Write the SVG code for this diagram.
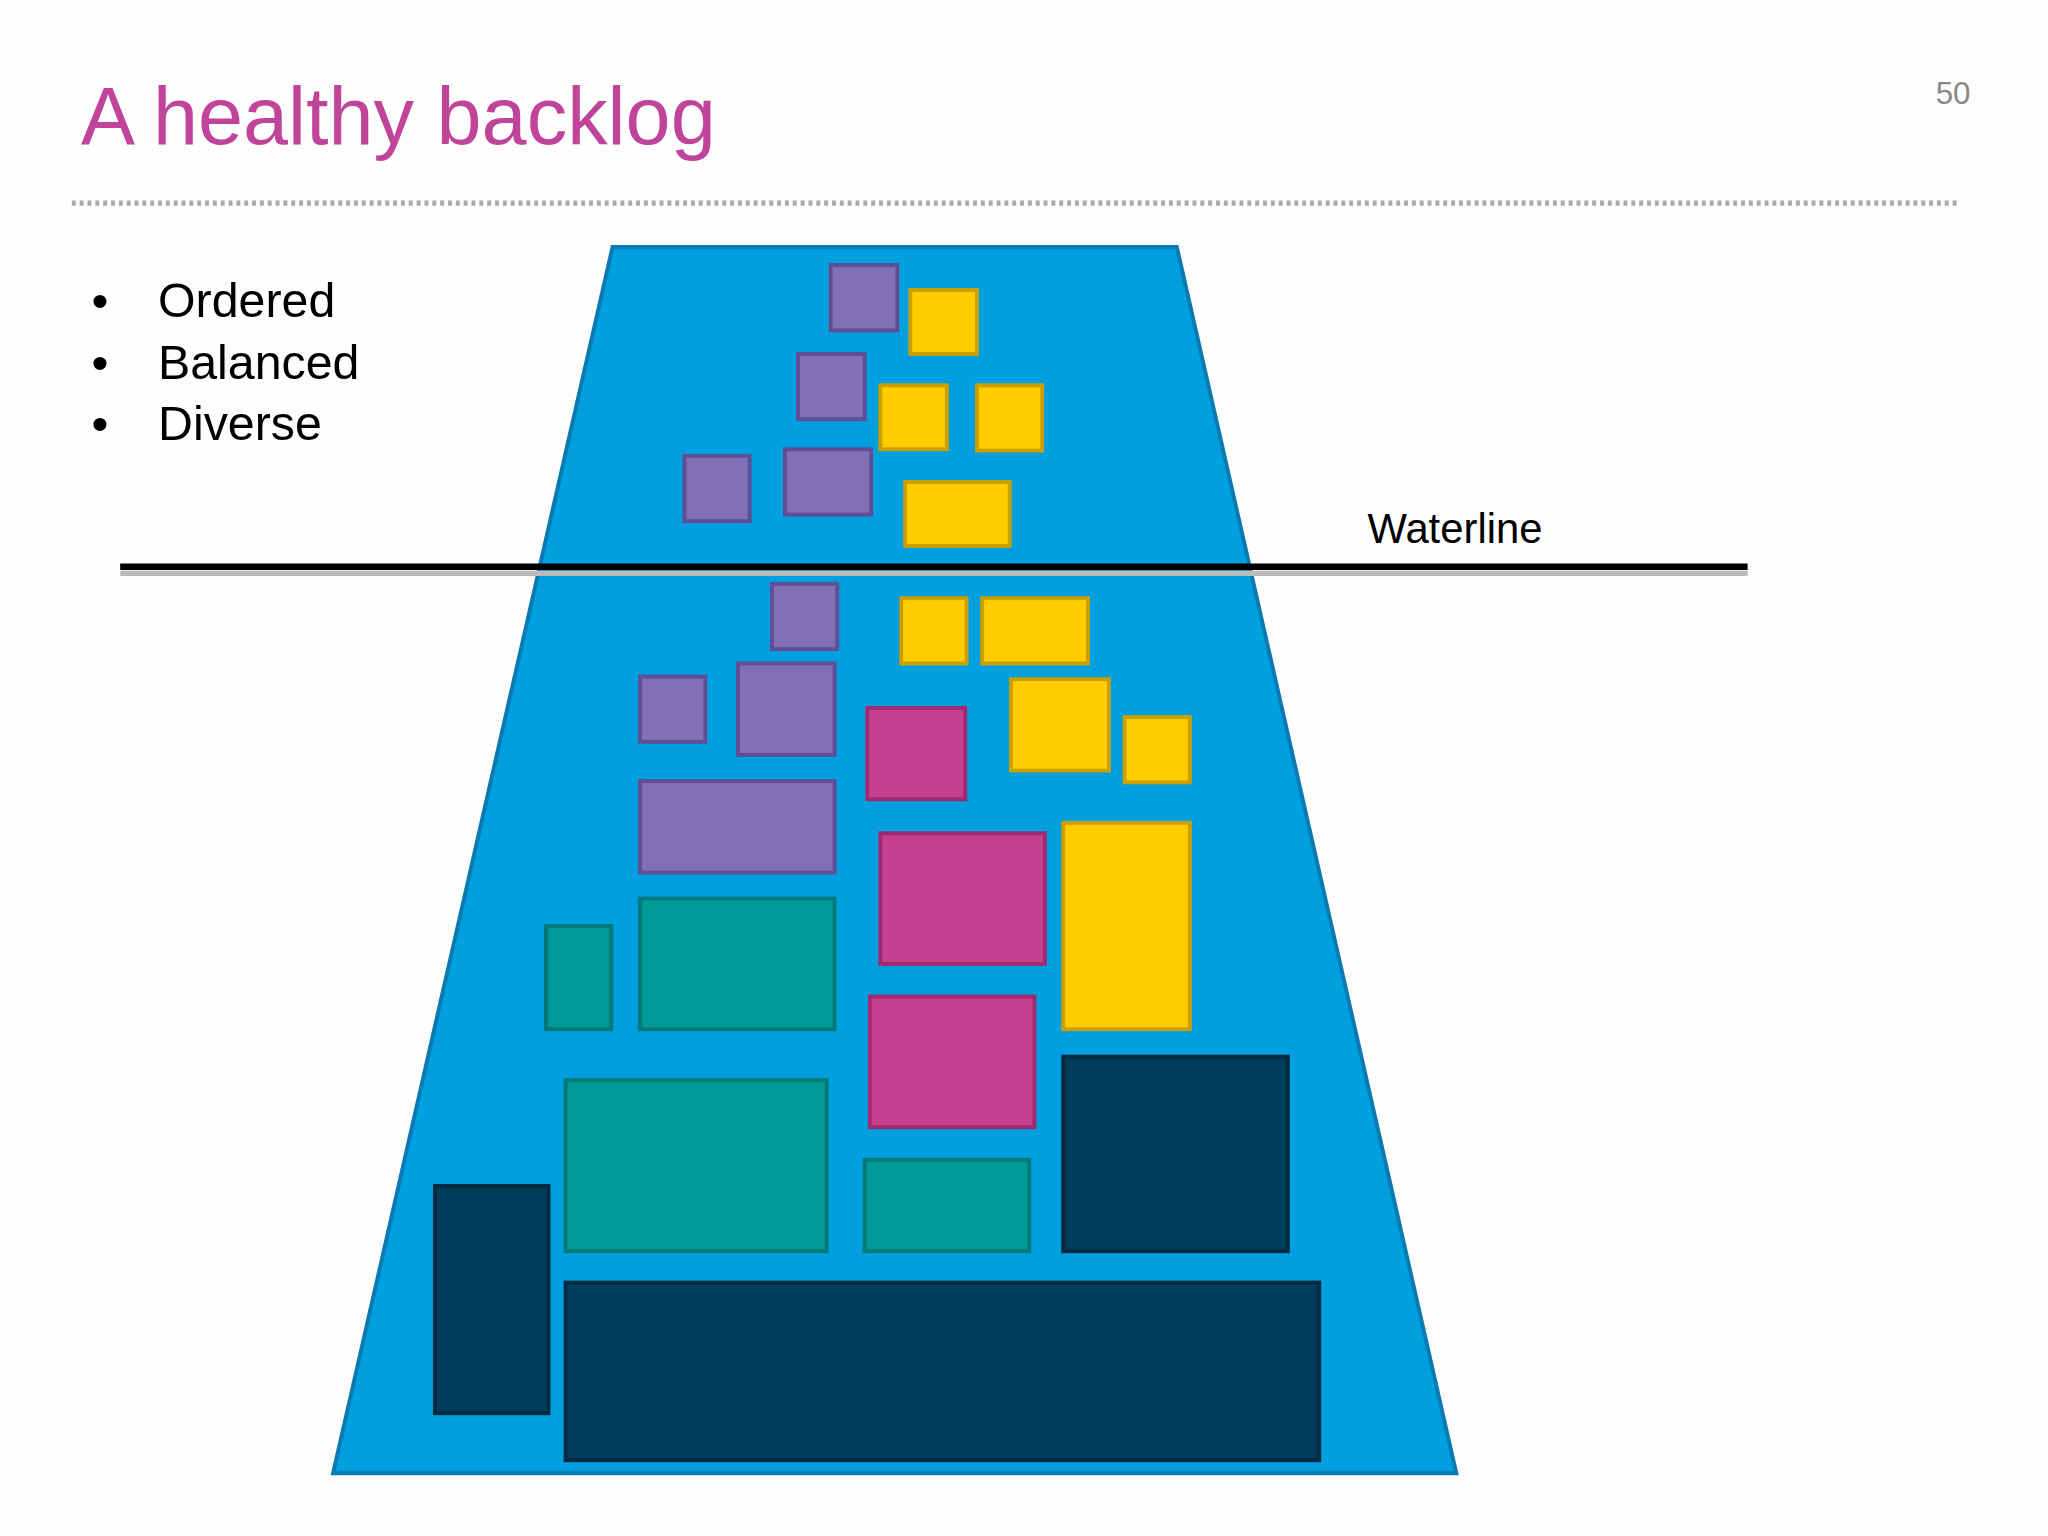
<svg xmlns="http://www.w3.org/2000/svg" width="2048" height="1536" viewBox="0 0 2048 1536">
<style>
.t{font-family:"Liberation Sans",Arial,sans-serif}
.p{fill:#8070b4;stroke:#5e4f96;stroke-width:3}
.y{fill:#ffcc00;stroke:#c9a000;stroke-width:3}
.m{fill:#c54090;stroke:#a02a70;stroke-width:3}
.g{fill:#009999;stroke:#007a78;stroke-width:3}
.n{fill:#003d5c;stroke:#002a40;stroke-width:3}
</style>
<rect width="2048" height="1536" fill="#fdfdfd"/>
<g transform="scale(1.30612)">
<text class="t" x="62" y="110" font-size="62" fill="#c0449a">A healthy backlog</text>
<text class="t" x="1482" y="80" font-size="24" fill="#888">50</text>
<line x1="55" y1="155.5" x2="1500" y2="155.5" stroke="#aaa" stroke-width="4" stroke-dasharray="3,3"/>
<g class="t" font-size="37" fill="#000">
<text x="70" y="243">•</text><text x="121" y="243">Ordered</text>
<text x="70" y="290">•</text><text x="121" y="290">Balanced</text>
<text x="70" y="337">•</text><text x="121" y="337">Diverse</text>
</g>
<g id="funnel"><polygon points="469,189 901,189 1115,1128 255,1128" fill="#009fe0" stroke="#0a7ab0" stroke-width="3"/></g>
<g id="items">
<rect class="p" x="636" y="203" width="51" height="50"/>
<rect class="p" x="611" y="271" width="51" height="50"/>
<rect class="p" x="524" y="349" width="50" height="50"/>
<rect class="p" x="601" y="344" width="66" height="50"/>
<rect class="p" x="591" y="447" width="50" height="50"/>
<rect class="p" x="490" y="518" width="50" height="50"/>
<rect class="p" x="565" y="508" width="74" height="70"/>
<rect class="p" x="490" y="598" width="149" height="70"/>
<rect class="y" x="697" y="222" width="51" height="49"/>
<rect class="y" x="674" y="295" width="51" height="49"/>
<rect class="y" x="748" y="295" width="50" height="50"/>
<rect class="y" x="693" y="369" width="80" height="49"/>
<rect class="y" x="690" y="458" width="50" height="50"/>
<rect class="y" x="752" y="458" width="81" height="50"/>
<rect class="y" x="774" y="520" width="75" height="70"/>
<rect class="y" x="861" y="549" width="50" height="50"/>
<rect class="y" x="814" y="630" width="97" height="158"/>
<rect class="m" x="664" y="542" width="75" height="70"/>
<rect class="m" x="674" y="638" width="126" height="100"/>
<rect class="m" x="666" y="763" width="126" height="100"/>
<rect class="g" x="418" y="709" width="50" height="79"/>
<rect class="g" x="490" y="688" width="149" height="100"/>
<rect class="g" x="433" y="827" width="200" height="131"/>
<rect class="g" x="662" y="888" width="126" height="70"/>
<rect class="n" x="814" y="809" width="172" height="149"/>
<rect class="n" x="333" y="908" width="87" height="174"/>
<rect class="n" x="433" y="982" width="577" height="136"/>
</g>
<g id="waterline">
<line x1="92" y1="439" x2="1338" y2="439" stroke="#bbb" stroke-width="4"/>
<line x1="92" y1="434" x2="1338" y2="434" stroke="#000" stroke-width="5"/>
<text class="t" x="1047" y="416" font-size="32" fill="#000">Waterline</text>
</g>
</g>
</svg>
